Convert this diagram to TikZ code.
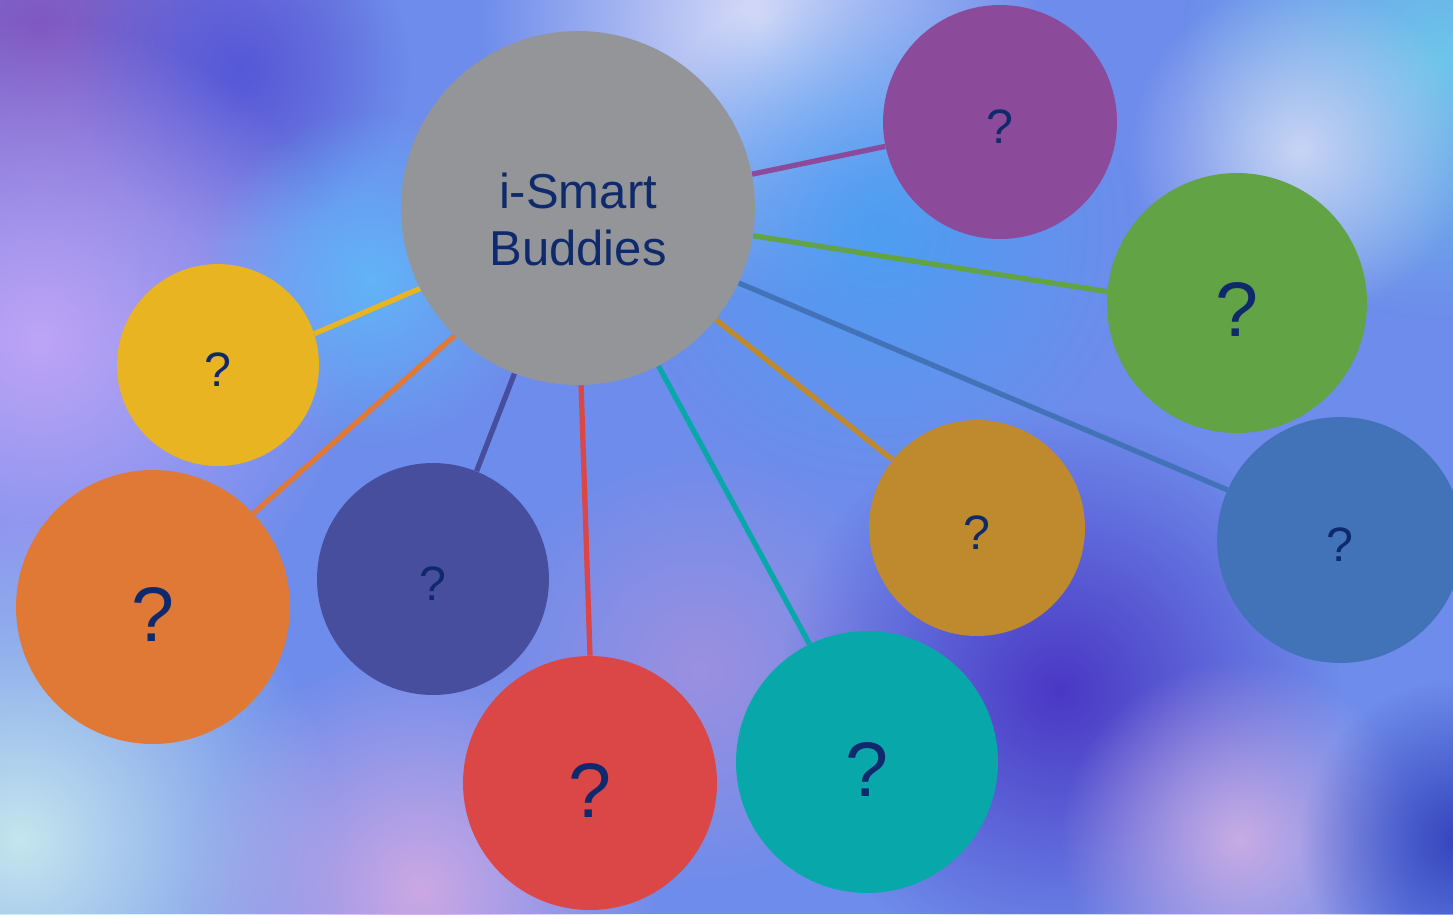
\documentclass[tikz,border=0pt]{standalone}
\usepackage{fontspec}
\setmainfont{Liberation Sans}
\usetikzlibrary{fadings}
\pgfdeclarelayer{bg}
\pgfdeclarelayer{links}
\pgfsetlayers{bg,links,main}
\tikzfading[name=softBlob, inner color=transparent!0, outer color=transparent!100]
%% Colours of the bubbles.
\definecolor{hubGray}{HTML}{939598}
\definecolor{qPurple}{HTML}{8B4A9A}
\definecolor{qGreen}{HTML}{62A345}
\definecolor{qYellow}{HTML}{E8B421}
\definecolor{qOrange}{HTML}{E07836}
\definecolor{qNavy}{HTML}{474E9E}
\definecolor{qRed}{HTML}{DB4646}
\definecolor{qTeal}{HTML}{08A8AA}
\definecolor{qGold}{HTML}{BF8A2E}
\definecolor{qBlue}{HTML}{4273B8}
\definecolor{qText}{HTML}{0F2A6C}
%% Colours of the blurred background.
\definecolor{bgBase}{HTML}{6E8CEB}
\newcommand{\blob}[4]{%%
  %% A soft patch of colour in the background.
  \definecolor{blobColor}{HTML}{#4}
  \fill[blobColor, path fading=softBlob] (#1,#2) circle (#3);
}
\newcommand{\myBackground}{%%
  \fill[bgBase] (0,0) rectangle (1453,914);
  \blob{40}{30}{340}{8058C0}
  \blob{240}{70}{170}{5558D8}
  \blob{40}{340}{320}{BEA4F6}
  \blob{20}{840}{320}{C4E6EE}
  \blob{420}{890}{240}{CCA8E4}
  \blob{760}{20}{280}{D8DCF8}
  \blob{1440}{60}{260}{6CC6EA}
  \blob{1300}{150}{170}{C8D4F4}
  \blob{880}{230}{260}{4C9EF2}
  \blob{370}{280}{170}{62B4F8}
  \blob{700}{670}{220}{9C90E0}
  \blob{1060}{690}{280}{4A38C4}
  \blob{1240}{840}{180}{C8ACE4}
  \blob{1460}{840}{160}{3444BC}
}
%% Move a label down without changing its box.
\newcommand{\dropText}[2]{\raisebox{-#1}[\height][\depth]{#2}}

\begin{document}
\begin{tikzpicture}[%%
  x=0.02cm,y=-0.02cm,
  bubble/.style={circle,inner sep=0pt,text=qText,align=center},
  smallQ/.style={bubble,font=\fontsize{27.5}{32}\selectfont},
  bigQ/.style={bubble,font=\fontsize{44}{50}\selectfont},
  link/.style={line width=3pt}
]
\useasboundingbox (0,0) rectangle (1453,914);
\clip (0,0) rectangle (1453,914);
%%
\begin{pgfonlayer}{bg}
\myBackground
\end{pgfonlayer}
%%
%% The hub and its buddies.
\node[bubble,fill=hubGray,minimum size=7.08cm,
  font=\fontsize{27.9}{32.4}\selectfont] (hub) at (578,208)
  {\dropText{0.36cm}{\begin{tabular}{@{}c@{}}i-Smart\\Buddies\end{tabular}}};
\node[smallQ,fill=qPurple,minimum size=4.68cm] (purple) at (1000,122) {\dropText{0.1cm}{?}};
\node[bigQ,fill=qGreen,minimum size=5.2cm] (green) at (1237,303) {\dropText{0.14cm}{?}};
\node[smallQ,fill=qYellow,minimum size=4.04cm] (yellow) at (218,365) {\dropText{0.1cm}{?}};
\node[bigQ,fill=qOrange,minimum size=5.48cm] (orange) at (153,607) {\dropText{0.14cm}{?}};
\node[smallQ,fill=qNavy,minimum size=4.64cm] (navy) at (433,579) {\dropText{0.1cm}{?}};
\node[bigQ,fill=qRed,minimum size=5.08cm] (red) at (590,783) {\dropText{0.14cm}{?}};
\node[bigQ,fill=qTeal,minimum size=5.24cm] (teal) at (867,762) {\dropText{0.14cm}{?}};
\node[smallQ,fill=qGold,minimum size=4.32cm] (gold) at (977,528) {\dropText{0.1cm}{?}};
\node[smallQ,fill=qBlue,minimum size=4.92cm] (blue) at (1340,540) {\dropText{0.1cm}{?}};
%%
%% Links from the hub, drawn under the bubbles.
\begin{pgfonlayer}{links}
\foreach \b/\c/\s/\e in {purple/qPurple/11.7/192.3,green/qGreen/351/175.6,
  blue/qBlue/335.2/156.5,gold/qGold/321.6/141.2,teal/qTeal/297.6/116.8,
  red/qRed/271.3/90.9,navy/qNavy/249/68.5,orange/qOrange/226.6/43.2,
  yellow/qYellow/207.1/18.6}
  \draw[link,\c] (hub.\s) -- (\b.\e);
\end{pgfonlayer}
\end{tikzpicture}
\end{document}
